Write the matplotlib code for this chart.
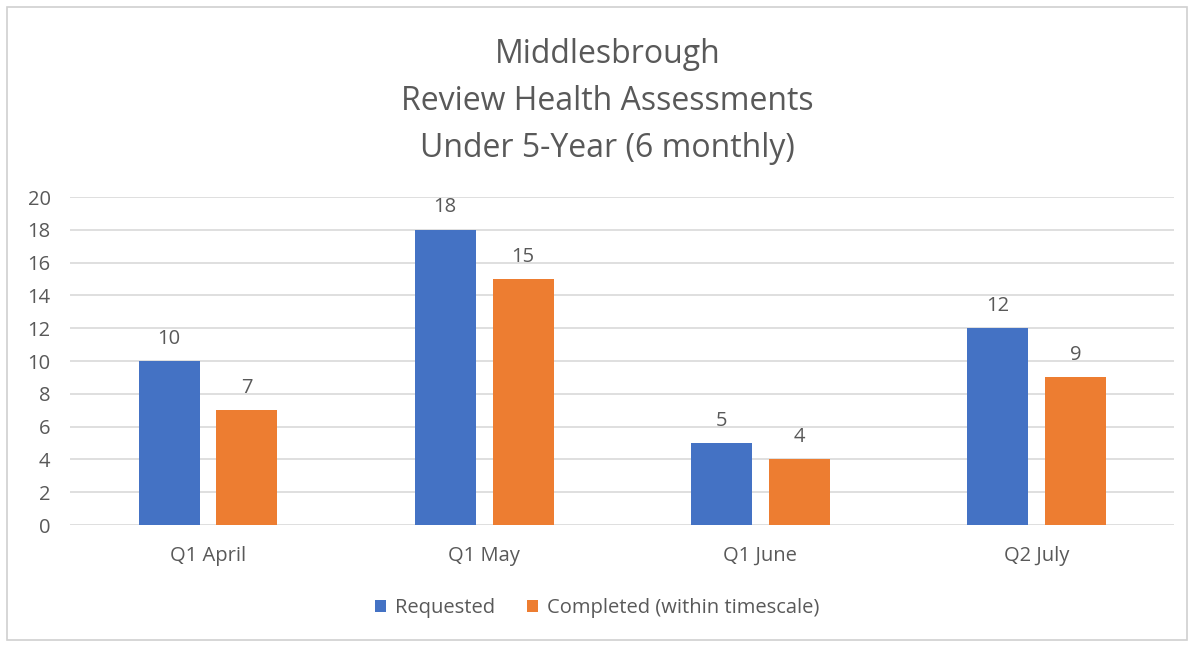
import matplotlib.pyplot as plt
import numpy as np
from matplotlib.patches import Rectangle

categories = ["Q1 April", "Q1 May", "Q1 June", "Q2 July"]
requested = [10, 18, 5, 12]
completed = [7, 15, 4, 9]
series_names = ["Requested", "Completed (within timescale)"]
title_lines = ["Middlesbrough", "Review Health Assessments", "Under 5-Year (6 monthly)"]

BLUE = "#4472C4"
ORANGE = "#ED7D31"
TEXT = "#595959"
GRID = "#D9D9D9"

plt.rcParams["font.family"] = ["Open Sans", "DejaVu Sans"]

fig = plt.figure(figsize=(11.94, 6.45), dpi=100)
fig.patches.append(Rectangle((0.006, 0.008), 0.988, 0.981, transform=fig.transFigure,
                             fill=False, edgecolor="#D0D0D0", linewidth=1.2))

ax = fig.add_axes([0.0586, 0.186, 0.925, 0.5085])
x = np.arange(len(categories))
width = 0.221
off = 0.141

b1 = ax.bar(x - off, requested, width, color=BLUE, label=series_names[0], zorder=3)
b2 = ax.bar(x + off, completed, width, color=ORANGE, label=series_names[1], zorder=3)

for bars, vals in ((b1, requested), (b2, completed)):
    for bar, v in zip(bars, vals):
        ax.annotate(str(v), (bar.get_x() + bar.get_width() / 2, v),
                    xytext=(0, 9), textcoords="offset points",
                    ha="center", va="bottom", fontsize=14.5, color=TEXT)

ax.set_xlim(-0.5, len(categories) - 0.5)
ax.set_ylim(0, 20)
ax.set_yticks(range(0, 21, 2))
ax.set_xticks(x)
ax.set_xticklabels(categories)
ax.yaxis.grid(True, color=GRID, linewidth=1.2, zorder=0)
ax.set_axisbelow(True)
for s in ax.spines.values():
    s.set_visible(False)
ax.tick_params(axis="both", length=0, labelsize=14.5, labelcolor=TEXT)
ax.tick_params(axis="x", pad=15)
ax.tick_params(axis="y", pad=14)

fig.text(0.509, 0.843, "\n".join(title_lines), ha="center", va="center",
         fontsize=23, color=TEXT, linespacing=1.55)

fig.legend(loc="center", bbox_to_anchor=(0.5, 0.057), ncol=2, frameon=False,
           fontsize=14.5, labelcolor=TEXT, handlelength=0.55, handleheight=0.55,
           handletextpad=0.45, columnspacing=1.6)

fig.savefig("out.png", dpi=100)
